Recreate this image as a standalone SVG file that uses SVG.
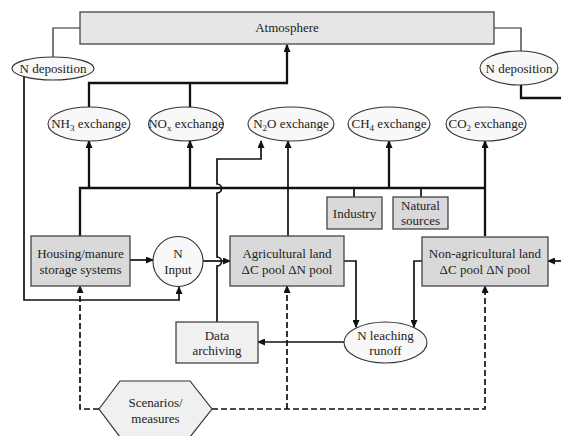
<svg xmlns="http://www.w3.org/2000/svg" width="561" height="436" viewBox="0 0 561 436" font-family="'Liberation Serif', 'DejaVu Serif', serif">
<defs>
<marker id="ah" markerUnits="userSpaceOnUse" markerWidth="8" markerHeight="7" refX="7" refY="3.5" orient="auto">
<path d="M0,0 L8,3.5 L0,7 z" fill="#111"/>
</marker>
<style>
text{font-family:'Liberation Serif','DejaVu Serif',serif;font-size:13px;fill:#222;text-anchor:middle}
.box{fill:#d9d9d9;stroke:#444;stroke-width:1.3}
.lbox{stroke:#444;stroke-width:1.3}
.ell{fill:#f8f8f8;stroke:#333;stroke-width:1.1}
.thick{fill:none;stroke:#111;stroke-width:2.3}
.med{fill:none;stroke:#111;stroke-width:1.7}
.thin{fill:none;stroke:#222;stroke-width:1.2}
.dash{fill:none;stroke:#111;stroke-width:1.7;stroke-dasharray:6,3}
.sub{font-size:9px}
</style>
</defs>
<rect width="561" height="436" fill="#fff"/>
<g id="connectors">
<path class="thin" d="M53,57 V28 H80"/>
<path class="thin" d="M494,28 H521 V51"/>
<path class="thick" d="M521,85 V98 H561"/>
<path class="thick" d="M89,107 V83 H287 V45" marker-end="url(#ah)"/>
<path class="thick" d="M190,107 V83"/>
<path class="thick" d="M80,236 V188 H485"/>
<path class="thick" d="M89,188 V141" marker-end="url(#ah)"/>
<path class="thick" d="M190,188 V141" marker-end="url(#ah)"/>
<path class="med" d="M288,236 V141" marker-end="url(#ah)"/>
<path class="thick" d="M389,188 V141" marker-end="url(#ah)"/>
<path class="thick" d="M485,236 V141" marker-end="url(#ah)"/>
<path class="med" d="M354,188 V197"/>
<path class="med" d="M421,188 V197"/>
<path class="med" d="M217,322 V266 A4.5,4.5 0 0 0 217,257 V193 A4.5,4.5 0 0 0 217,184 V159 H261 V141" marker-end="url(#ah)"/>
<path class="med" d="M130,260 H153" marker-end="url(#ah)"/>
<path class="med" d="M203,261 H230" marker-end="url(#ah)"/>
<path class="med" d="M24,77 V300 H179 V287" marker-end="url(#ah)"/>
<path class="med" d="M344,261 H356 V327" marker-end="url(#ah)"/>
<path class="med" d="M422,261 H414 V327" marker-end="url(#ah)"/>
<path class="med" d="M344,342 H258" marker-end="url(#ah)"/>
<path class="med" d="M561,261 H548" marker-end="url(#ah)"/>
<path class="dash" d="M99,409 H80 V286" marker-end="url(#ah)"/>
<path class="dash" d="M212,409 H485 V286" marker-end="url(#ah)"/>
<path class="dash" d="M287,409 V286" marker-end="url(#ah)"/>
</g>
<g id="atmosphere">
<rect class="lbox" x="80" y="12" width="414" height="32" fill="#e6e6e6"/>
<text x="287" y="32">Atmosphere</text>
</g>
<g id="ndep-left">
<ellipse class="ell" cx="53" cy="68.5" rx="41" ry="11.5"/>
<text x="53" y="73">N deposition</text>
</g>
<g id="ndep-right">
<ellipse class="ell" cx="519" cy="68" rx="39" ry="17"/>
<text x="519" y="73">N deposition</text>
</g>
<g id="nh3">
<ellipse class="ell" cx="89" cy="124" rx="41" ry="17"/>
<text x="89" y="128">NH<tspan class="sub" dy="3">3</tspan><tspan dy="-3"> exchange</tspan></text>
</g>
<g id="nox">
<ellipse class="ell" cx="186" cy="124" rx="37.5" ry="17"/>
<text x="186" y="128">NO<tspan class="sub" dy="3">x</tspan><tspan dy="-3"> exchange</tspan></text>
</g>
<g id="n2o">
<ellipse class="ell" cx="291" cy="124" rx="43" ry="17"/>
<text x="291" y="128">N<tspan class="sub" dy="3">2</tspan><tspan dy="-3">O exchange</tspan></text>
</g>
<g id="ch4">
<ellipse class="ell" cx="389" cy="124" rx="41" ry="17"/>
<text x="389" y="128">CH<tspan class="sub" dy="3">4</tspan><tspan dy="-3"> exchange</tspan></text>
</g>
<g id="co2">
<ellipse class="ell" cx="486" cy="124" rx="40" ry="17"/>
<text x="486" y="128">CO<tspan class="sub" dy="3">2</tspan><tspan dy="-3"> exchange</tspan></text>
</g>
<g id="industry">
<rect class="box" x="327" y="197" width="55" height="32"/>
<text x="354.5" y="218">Industry</text>
</g>
<g id="natural">
<rect class="box" x="393" y="197" width="55" height="32"/>
<text x="420.5" y="210">Natural</text>
<text x="420.5" y="225">sources</text>
</g>
<g id="housing">
<rect class="box" x="31" y="236" width="99" height="50"/>
<text x="80.5" y="258">Housing/manure</text>
<text x="80.5" y="274">storage systems</text>
</g>
<g id="ninput">
<circle class="ell" cx="178" cy="261.5" r="25" fill="#fafafa"/>
<text x="178" y="258">N</text>
<text x="178" y="274">Input</text>
</g>
<g id="agri">
<rect class="box" x="230" y="236" width="114" height="50"/>
<text x="287" y="258">Agricultural land</text>
<text x="287" y="274">ΔC pool ΔN pool</text>
</g>
<g id="nonagri">
<rect class="box" x="422" y="237" width="126" height="49"/>
<text x="485" y="258">Non-agricultural land</text>
<text x="485" y="274">ΔC pool ΔN pool</text>
</g>
<g id="leaching">
<ellipse class="ell" cx="385.5" cy="342.5" rx="41.5" ry="20.5"/>
<text x="385.5" y="340">N leaching</text>
<text x="385.5" y="355">runoff</text>
</g>
<g id="archiving">
<rect class="lbox" x="176" y="322" width="82" height="41" fill="#f0f0f0"/>
<text x="217" y="340">Data</text>
<text x="217" y="355">archiving</text>
</g>
<g id="scenarios">
<polygon points="99,409 120,381 190,381 212,409 190,437 120,437" fill="#f0f0f0" stroke="#333" stroke-width="1.2"/>
<text x="155.5" y="407">Scenarios/</text>
<text x="155.5" y="423">measures</text>
</g>
</svg>
